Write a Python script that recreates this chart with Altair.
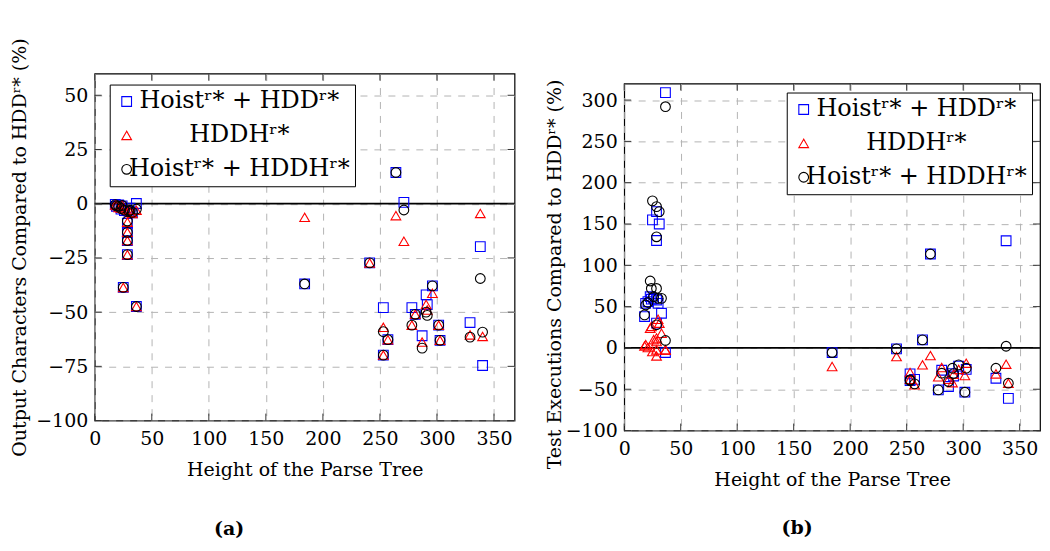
import altair as alt
import pandas as pd

FONT = "DejaVu Serif"

series_names = ["Hoistʳ* + HDDʳ*", "HDDHʳ*", "Hoistʳ* + HDDHʳ*"]
series_colors = ["#0000ff", "#ff0000", "#000000"]
series_shapes = ["square", "triangle-up", "circle"]

# Height of the parse tree for each benchmark input
heights = [18, 19, 21, 23, 25, 24, 26, 28.6, 28.6, 28.6, 28.6, 30, 31, 33, 36.5, 36.5,
           184, 241, 253, 253, 257, 264, 271, 278, 281, 287, 290.5, 291.5, 296, 301.5,
           302.7, 329, 338, 340]

# (a) Output characters compared to HDDr* (%)
chars_hoist_hdd = [-0.3, -1.2, -0.6, -2.5, -38.6, -1.0, -3.2, -9.0, -13.2, -17.0, -23.5,
                   -3.5, -2.0, -4.2, -47.4, 0.1,
                   -37.0, -27.3, -47.9, -69.8, -62.7, 14.4, 0.6, -47.9, -51.0, -60.9,
                   -42.0, -46.5, -37.9, -56.0, -63.0, -54.8, -19.8, -74.6]
chars_hddh = [-0.5, -0.8, -1.8, -2.0, -38.6, -0.6, -2.5, -8.5, -13.2, -17.0, -23.5,
              -3.0, -4.0, -4.5, -47.4, -3.0,
              -6.3, -27.3, -57.0, -69.8, -62.7, -5.5, -17.3, -56.0, -51.0, -63.8,
              -46.5, -49.0, -41.3, -56.0, -63.0, -60.5, -4.5, -61.2]
chars_hoist_hddh = [-0.4, -1.0, -1.2, -2.2, -38.6, -0.8, -3.0, -8.0, -13.2, -17.0, -23.5,
                    -3.5, -3.0, -4.0, -47.4, -2.5,
                    -37.0, -27.3, -59.0, -69.8, -62.7, 14.4, -2.9, -56.0, -51.0, -66.6,
                    -50.0, -51.5, -37.9, -56.0, -63.0, -61.5, -34.5, -59.2]

# (b) Test executions compared to HDDr* (%)
exec_hoist_hdd = [38, 54, 56, 62, 155, 59, 60, 165, 130, 58, 30,
                  54, 150, 42, -5.6, 309,
                  -5.6, -1.2, -31.4, -39.5, -38.0, 9.7, 113.7, -50.8, -27.0, -46.7,
                  -31.0, -34.0, -22.0, -53.6, -26.0, -36.7, 129.7, -61.0]
exec_hddh = [2.4, 4, 0.5, 23.8, -4.4, 26, 10, 7.7, -2.4, -9.7, 12,
             34.7, 30, 17.8, -2.4, -2.4,
             -22.5, -10.5, -29.8, -38.0, -44.7, -20.5, -9.3, -35.0, -23.8, -38.0,
             -42.0, -32.0, -26.0, -33.4, -18.5, -31.4, -19.7, -42.7]
exec_hoist_hddh = [40, 52, 55, 81, 178, 72, 62, 171, 134.5, 72, 28,
                   60, 165, 60, 9, 292,
                   -5.6, -1.2, -38.7, -39.5, -43.5, 9.7, 113.7, -50.8, -30.6, -40.7,
                   -24.6, -31.0, -20.5, -53.6, -24.6, -24.6, 2.0, -42.7]

x_ticks = [0, 50, 100, 150, 200, 250, 300, 350]
chars_ticks = [-100, -75, -50, -25, 0, 25, 50]
exec_ticks = [-100, -50, 0, 50, 100, 150, 200, 250, 300]
zero_line = [0]
x_domain = [0, 368]
chars_domain = [-100, 60]
exec_domain = [-100, 320]

GRID = "#b4b4b4"
TICK = "#333333"
TICK_LEN = 7


def panel(values, y_domain, y_ticks, y_title, caption, W, H, legend, cap_dx, cap_offset,
          title_pos=None):
    df = pd.DataFrame({
        "height": heights * 3,
        "value": values[0] + values[1] + values[2],
        "series": [s for s in series_names for _ in heights],
    })
    xs = alt.Scale(domain=x_domain, nice=False, zero=False)
    ys = alt.Scale(domain=y_domain, nice=False, zero=False)
    x_axis = alt.Axis(values=x_ticks, title="Height of the Parse Tree", grid=True,
                      gridDash=[7, 7], gridColor=GRID, gridWidth=1, ticks=False,
                      domain=False, labelPadding=9, titlePadding=12, labelFlush=False,
                      labelOverlap=False)
    y_kw = dict(values=y_ticks, title=y_title, grid=True, gridDash=[7, 7],
                gridColor=GRID, gridWidth=1, ticks=False, domain=False,
                labelPadding=7, titlePadding=6, labelFlush=False, labelOverlap=False,
                titleLimit=2000)
    if title_pos is not None:
        y_kw["titleX"] = title_pos[0]
        y_kw["titleY"] = title_pos[1]
    y_axis = alt.Axis(**y_kw)
    pts = alt.Chart(df).mark_point(filled=False, size=95, strokeWidth=1.1, opacity=1).encode(
        x=alt.X("height:Q", scale=xs, axis=x_axis),
        y=alt.Y("value:Q", scale=ys, axis=y_axis),
        color=alt.Color("series:N", scale=alt.Scale(domain=series_names, range=series_colors),
                        legend=legend),
        shape=alt.Shape("series:N", scale=alt.Scale(domain=series_names, range=series_shapes),
                        legend=legend),
    )
    zero = alt.Chart(pd.DataFrame({"value": zero_line})).mark_rule(
        color="black", strokeWidth=1.8).encode(y=alt.Y("value:Q", scale=ys, axis=y_axis))
    xt = pd.DataFrame({"height": x_ticks})
    yt = pd.DataFrame({"value": y_ticks})
    tb = alt.Chart(xt).mark_rule(color=TICK, strokeWidth=1).encode(
        x=alt.X("height:Q", scale=xs, axis=x_axis), y=alt.value(H), y2=alt.value(H - TICK_LEN))
    tt = alt.Chart(xt).mark_rule(color=TICK, strokeWidth=1).encode(
        x=alt.X("height:Q", scale=xs, axis=x_axis), y=alt.value(0), y2=alt.value(TICK_LEN))
    tl = alt.Chart(yt).mark_rule(color=TICK, strokeWidth=1).encode(
        y=alt.Y("value:Q", scale=ys, axis=y_axis), x=alt.value(0), x2=alt.value(TICK_LEN))
    tr = alt.Chart(yt).mark_rule(color=TICK, strokeWidth=1).encode(
        y=alt.Y("value:Q", scale=ys, axis=y_axis), x=alt.value(W), x2=alt.value(W - TICK_LEN))
    return alt.layer(zero, tb, tt, tl, tr, pts).properties(
        width=W, height=H,
        title=alt.TitleParams(caption, orient="bottom", fontWeight="bold", font=FONT,
                              fontSize=19, dx=cap_dx, offset=cap_offset, anchor="middle",
                              frame="bounds", color="black"),
    )


def make_legend(x, y):
    return alt.Legend(title=None, orient="none", legendX=x, legendY=y, fillColor="white",
                      strokeColor="black", padding=5, cornerRadius=0, labelFont=FONT,
                      labelFontSize=24, labelAlign="center", labelOffset=101, labelLimit=0,
                      symbolSize=95, symbolStrokeWidth=1.1, rowPadding=10, labelColor="black")


left = panel([chars_hoist_hdd, chars_hddh, chars_hoist_hddh], chars_domain, chars_ticks,
             "Output Characters Compared to HDDʳ* (%)", "(a)", 421, 348,
             make_legend(15, 11), -34, 41)
right = panel([exec_hoist_hdd, exec_hddh, exec_hoist_hddh], exec_domain, exec_ticks,
              "Test Executions Compared to HDDʳ* (%)", "(b)", 417, 348,
              make_legend(163, 9), 4, 30, title_pos=(-60, 191))

spacer = alt.Chart(pd.DataFrame({"v": [0]})).mark_point(opacity=0).encode(
    x=alt.value(0), y=alt.value(0)).properties(
    width=10, height=2, view=alt.ViewBackground(stroke="transparent"))

right_col = alt.vconcat(spacer, right, spacing=0).resolve_scale(
    color="independent", shape="independent")

chart = alt.hconcat(left, right_col, spacing=28).properties(
    padding={"left": 2, "top": 28, "right": 0, "bottom": 0}
).configure_view(stroke="black", strokeWidth=1.2).configure_axis(
    labelFont=FONT, titleFont=FONT, labelFontSize=19, titleFontSize=19,
    titleFontWeight="normal", labelColor="black", titleColor="black"
).resolve_scale(color="independent", shape="independent")

chart.save("out.html", embed_options={"renderer": "svg", "actions": False})
